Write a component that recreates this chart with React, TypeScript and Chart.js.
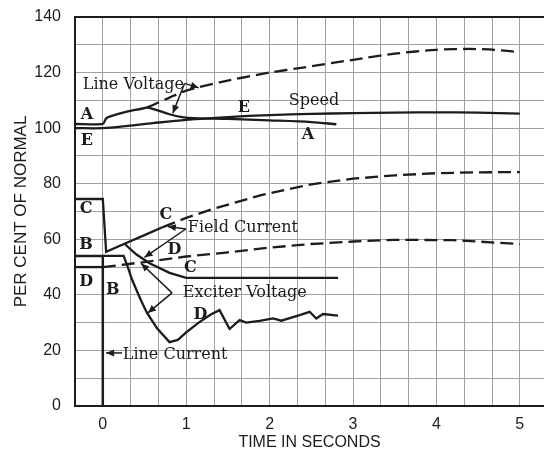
import React, { useEffect, useRef } from 'react';
import { Chart, registerables } from 'chart.js';

Chart.register(...registerables);

// ---- axis setup ----
const xMin = -1 / 3;
const xMax = 5.29;
const xGridValues = [-1, 0, 1, 2, 3, 4, 5, 6, 7, 8, 9, 10, 11, 12, 13, 14, 15].map((i) => i / 3);
const xTickLabels = ['0', '1', '2', '3', '4', '5'];
const yMin = 0;
const yMax = 140;
const yStep = 10;
const yLabelStep = 20;

// ---- A: line voltage (solid, then dashed after branch) ----
const lineVoltageT = [-0.333, 0, 0.04, 0.1, 0.3, 0.53, 0.8, 1.0, 1.4, 2.0, 2.4, 3.0, 3.5, 4.0, 4.4, 4.7, 5.0];
const lineVoltageV = [101.5, 101.5, 103.5, 104.3, 106, 107.5, 111, 113.5, 116.5, 120, 121.8, 124.6, 126.8, 128.2, 128.5, 128.2, 127.3];
const lineVoltageDashFrom = 0.53;

// ---- A: line voltage, regulated branch ----
const lineVoltageRegT = [0.53, 0.65, 0.8, 0.95, 1.1, 1.5, 2.0, 2.5, 2.8];
const lineVoltageRegV = [107.5, 106.5, 105, 104, 103.6, 103.3, 102.8, 102.2, 101.4];

// ---- E: speed ----
const speedT = [-0.333, 0, 0.3, 0.6, 1.0, 1.5, 2.0, 2.5, 3.0, 3.5, 4.0, 4.5, 5.0];
const speedV = [100, 100, 100.8, 101.8, 103.0, 104.0, 104.7, 105.1, 105.4, 105.6, 105.7, 105.6, 105.2];

// ---- C: field current ----
const fieldT = [-0.333, 0, 0.04, 0.26, 0.5, 0.72, 1.0, 1.33, 1.9, 2.5, 3.0, 3.5, 4.0, 4.5, 5.0];
const fieldV = [74.5, 74.5, 55.5, 58.4, 61.5, 64.4, 67.7, 71.0, 75.9, 79.8, 81.8, 83.0, 83.8, 84.1, 84.2];
const fieldDashFrom = 0.72;

// ---- C: field current, regulated ----
const fieldRegT = [0.26, 0.4, 0.56, 0.8, 1.0, 2.82];
const fieldRegV = [58.4, 54.6, 51.4, 47.9, 46.1, 46.1];

// ---- B: line current ----
const lineCurrentT = [-0.333, 0, 0];
const lineCurrentV = [54, 54, 0];

// ---- D: exciter voltage (dashed) ----
const exciterT = [-0.333, 0, 0.5, 1.0, 1.5, 2.0, 2.5, 3.0, 3.5, 4.2, 5.0];
const exciterV = [50, 50, 51.8, 53.8, 55.3, 57, 58.3, 59.2, 59.8, 59.7, 58.3];
const exciterDashFrom = 0;

// ---- D: exciter voltage, regulated ----
const exciterRegT = [0, 0.25, 0.3, 0.35, 0.45, 0.53, 0.65, 0.8, 0.9, 1.0, 1.15, 1.3, 1.4, 1.52, 1.64, 1.72, 1.88, 2.04, 2.14, 2.36, 2.48, 2.56, 2.64, 2.82];
const exciterRegV = [54, 54, 50, 45.5, 38.5, 33.5, 28, 23, 23.8, 26.5, 30, 33, 34.5, 27.7, 30.9, 30, 30.6, 31.5, 30.7, 32.7, 33.9, 31.5, 33.1, 32.5];

// ---- annotation texts (anchored in data units) ----
const phraseLabels = [
  { text: 'Line Voltage', x: -0.24, y: 115.5 },
  { text: 'Speed', x: 2.23, y: 109.8 },
  { text: 'Field Current', x: 1.02, y: 64.0 },
  { text: 'Exciter Voltage', x: 0.96, y: 40.7 },
  { text: 'Line Current', x: 0.24, y: 18.4 },
];
const letterLabels = [
  { text: 'A', x: -0.19, y: 104.7 },
  { text: 'E', x: -0.19, y: 95.4 },
  { text: 'E', x: 1.69, y: 107.2 },
  { text: 'A', x: 2.46, y: 97.5 },
  { text: 'C', x: -0.2, y: 70.9 },
  { text: 'B', x: -0.2, y: 57.9 },
  { text: 'D', x: -0.2, y: 44.6 },
  { text: 'B', x: 0.12, y: 41.7 },
  { text: 'C', x: 0.755, y: 68.7 },
  { text: 'D', x: 0.86, y: 56.1 },
  { text: 'C', x: 1.05, y: 49.7 },
  { text: 'D', x: 1.17, y: 32.7 },
];
const arrows = [
  { x1: 0.98, y1: 116.1, x2: 1.15, y2: 114.5 },
  { x1: 0.98, y1: 116.1, x2: 0.84, y2: 105.4 },
  { x1: 0.995, y1: 63.7, x2: 0.78, y2: 64.6 },
  { x1: 0.995, y1: 63.7, x2: 0.5, y2: 53.5 },
  { x1: 0.83, y1: 40.7, x2: 0.46, y2: 51.3 },
  { x1: 0.83, y1: 40.7, x2: 0.54, y2: 33.5 },
  { x1: 0.23, y1: 19.1, x2: 0.04, y2: 19.1 },
];

const INK = '#1c1c1c';
const GRID = '#a0a0a0';
const DASH = [13, 6];

const pts = (t: number[], v: number[]) => t.map((x, i) => ({ x, y: v[i] }));

const dashAfter = (from: number) => (ctx: any) =>
  ctx.p0.parsed.x >= from - 1e-9 ? DASH : undefined;

const annotate = {
  id: 'annotate',
  beforeDatasetsDraw(chart: any) {
    const { ctx, chartArea } = chart;
    ctx.save();
    ctx.strokeStyle = INK;
    ctx.lineWidth = 2;
    ctx.beginPath();
    ctx.moveTo(chartArea.left - 1, chartArea.top);
    ctx.lineTo(chartArea.right, chartArea.top);
    ctx.stroke();
    ctx.restore();
  },
  afterDatasetsDraw(chart: any) {
    const { ctx, scales } = chart;
    const X = (v: number) => scales.x.getPixelForValue(v);
    const Y = (v: number) => scales.y.getPixelForValue(v);
    ctx.save();
    ctx.fillStyle = INK;
    ctx.strokeStyle = INK;
    ctx.textBaseline = 'middle';
    ctx.font = '16px "DejaVu Serif"';
    ctx.textAlign = 'left';
    phraseLabels.forEach((l) => ctx.fillText(l.text, X(l.x), Y(l.y)));
    ctx.font = 'bold 16px "DejaVu Serif"';
    ctx.textAlign = 'center';
    letterLabels.forEach((l) => ctx.fillText(l.text, X(l.x), Y(l.y)));
    ctx.lineWidth = 1.5;
    arrows.forEach((a) => {
      const x1 = X(a.x1), y1 = Y(a.y1), x2 = X(a.x2), y2 = Y(a.y2);
      ctx.beginPath();
      ctx.moveTo(x1, y1);
      ctx.lineTo(x2, y2);
      ctx.stroke();
      const ang = Math.atan2(y2 - y1, x2 - x1);
      const L = 8, W = 3.5;
      ctx.beginPath();
      ctx.moveTo(x2, y2);
      ctx.lineTo(x2 - L * Math.cos(ang) + W * Math.sin(ang), y2 - L * Math.sin(ang) - W * Math.cos(ang));
      ctx.lineTo(x2 - L * Math.cos(ang) - W * Math.sin(ang), y2 - L * Math.sin(ang) + W * Math.cos(ang));
      ctx.closePath();
      ctx.fill();
    });
    ctx.restore();
  },
};

export default function App() {
  const ref = useRef<HTMLCanvasElement | null>(null);

  useEffect(() => {
    if (!ref.current) return;
    const base = { borderColor: INK, borderWidth: 2.3, pointRadius: 0, fill: false, tension: 0 };
    const chart = new Chart(ref.current, {
      type: 'line',
      data: {
        datasets: [
          { ...base, label: 'Line Voltage', data: pts(lineVoltageT, lineVoltageV), tension: 0.25, segment: { borderDash: dashAfter(lineVoltageDashFrom) } },
          { ...base, label: 'Line Voltage (reg.)', data: pts(lineVoltageRegT, lineVoltageRegV), tension: 0.3 },
          { ...base, label: 'Speed', data: pts(speedT, speedV), tension: 0.3 },
          { ...base, label: 'Field Current', data: pts(fieldT, fieldV), segment: { borderDash: dashAfter(fieldDashFrom) } },
          { ...base, label: 'Field Current (reg.)', data: pts(fieldRegT, fieldRegV) },
          { ...base, label: 'Line Current', data: pts(lineCurrentT, lineCurrentV), borderWidth: 2.5 },
          { ...base, label: 'Exciter Voltage', data: pts(exciterT, exciterV), segment: { borderDash: dashAfter(exciterDashFrom) } },
          { ...base, label: 'Exciter Voltage (reg.)', data: pts(exciterRegT, exciterRegV) },
        ],
      },
      options: {
        animation: false,
        responsive: false,
        maintainAspectRatio: false,
        layout: { padding: { top: 17, right: 0, left: 0, bottom: 0 } },
        plugins: { legend: { display: false }, tooltip: { enabled: false } },
        scales: {
          x: {
            type: 'linear',
            min: xMin,
            max: xMax,
            afterBuildTicks: (s: any) => {
              s.ticks = xGridValues.map((v) => ({ value: v }));
            },
            afterFit: (s: any) => {
              s.height = 50;
              s.paddingLeft = 0;
              s.paddingRight = 0;
            },
            ticks: {
              autoSkip: false,
              maxRotation: 0,
              padding: 9,
              color: INK,
              font: { family: '"Liberation Sans"', size: 16 },
              callback: (v: any) => {
                const n = Number(v);
                const r = Math.round(n);
                return Math.abs(n - r) < 1e-6 && r >= 0 ? xTickLabels[r] ?? '' : '';
              },
            },
            grid: { color: GRID, lineWidth: 1, drawTicks: false },
            border: { display: true, color: INK, width: 2 },
            title: {
              display: true,
              text: 'TIME IN SECONDS',
              color: INK,
              font: { family: '"Liberation Sans"', size: 16 },
              padding: { top: 0, bottom: 4 },
            },
          },
          y: {
            min: yMin,
            max: yMax,
            afterFit: (s: any) => {
              s.width = 75;
              s.paddingTop = 0;
              s.paddingBottom = 0;
            },
            ticks: {
              stepSize: yStep,
              autoSkip: false,
              padding: 14,
              color: INK,
              font: { family: '"Liberation Sans"', size: 16 },
              callback: (v: any) => (Number(v) % yLabelStep === 0 ? String(v) : ''),
            },
            grid: { color: GRID, lineWidth: 1, drawTicks: false },
            border: { display: true, color: INK, width: 2 },
            title: {
              display: true,
              text: 'PER CENT OF NORMAL',
              color: INK,
              font: { family: '"Liberation Sans"', size: 17 },
              padding: { top: 11, bottom: 0 },
            },
          },
        },
      },
      plugins: [annotate],
    } as any);
    return () => chart.destroy();
  }, []);

  return (
    <div style={{ position: 'fixed', left: 0, top: 0, width: 544, height: 456, background: '#fff' }}>
      <canvas ref={ref} width={544} height={456} style={{ display: 'block' }} />
    </div>
  );
}
